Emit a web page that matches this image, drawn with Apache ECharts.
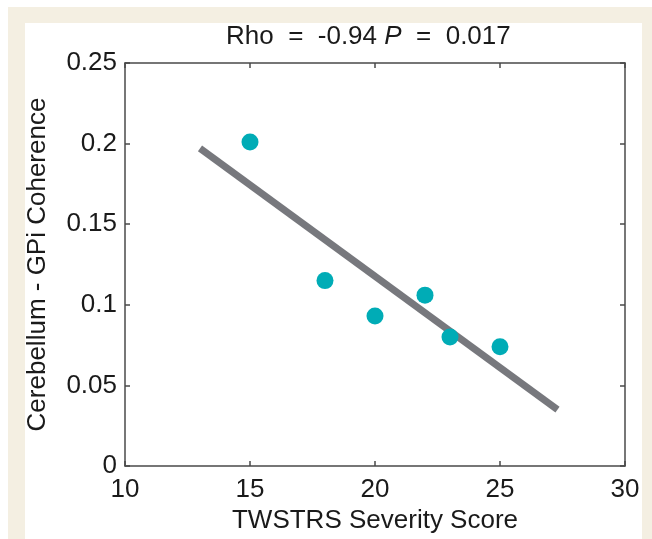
<!DOCTYPE html>
<html>
<head>
<meta charset="utf-8">
<title>Cerebellum - GPi Coherence</title>
<script src="https://cdn.jsdelivr.net/npm/echarts@6/dist/echarts.min.js"></script>
<style>
  body { margin: 0; background: #fff; }
  .frame { position: absolute; left: 8px; top: 7px; width: 644px; height: 532px; background: #f4efe2; }
  .panel { position: absolute; left: 25px; top: 23px; width: 617px; height: 516px; background: #fff; }
  #main { position: absolute; left: 0; top: 0; width: 652px; height: 539px; }
</style>
</head>
<body>
<div class="frame"></div>
<div class="panel"></div>
<div id="main"></div>
<script>
// TWSTRS score vs coherence, one dot per patient
var scores = [15, 18, 20, 22, 23, 25]
var coherence = [0.201, 0.115, 0.093, 0.106, 0.080, 0.074]
// ends of the regression line as drawn
var fitX = [13, 27.3]
var fitY = [0.197, 0.035]

var dots = []
scores.forEach(function(s, i) {
  dots.push([s, coherence[i]])
})
var fit = fitX.map(function(x, i) { return [x, fitY[i]] })

var font = 'Liberation Sans, Arial, sans-serif'
var axisColor = '#4a4a4a'

var myChart = echarts.init(document.getElementById('main'))
var xBase = {
  type: 'value', min: 10, max: 30, interval: 5,
  axisLine: { onZero: false, lineStyle: { color: axisColor, width: 1.5 } },
  axisTick: { inside: true, length: 5, lineStyle: { color: axisColor, width: 1.5 } },
  splitLine: { show: false }
}
var yBase = {
  type: 'value', min: 0, max: 0.25, interval: 0.05,
  axisLine: { onZero: false, lineStyle: { color: axisColor, width: 1.5 } },
  axisTick: { inside: true, length: 5, lineStyle: { color: axisColor, width: 1.5 } },
  splitLine: { show: false }
}

var option = {
  backgroundColor: 'transparent',
  animation: false,
  title: {
    text: 'Rho  =  -0.94 {i|P}  =  0.017',
    left: 221,
    top: 19,
    textStyle: {
      fontFamily: font, fontSize: 26, fontWeight: 'normal', color: '#1a1a1a',
      rich: { i: { fontFamily: font, fontSize: 26, fontStyle: 'italic', color: '#1a1a1a' } }
    }
  },
  grid: { left: 125, top: 63, width: 500, height: 408 },
  xAxis: [
    Object.assign({}, xBase, {
      position: 'bottom',
      name: 'TWSTRS Severity Score',
      nameLocation: 'middle',
      nameGap: 42,
      nameTextStyle: { fontFamily: font, fontSize: 26, color: '#1a1a1a' },
      axisLabel: { fontFamily: font, fontSize: 26, color: '#1a1a1a', margin: 11 }
    }),
    Object.assign({}, xBase, { position: 'top', axisLabel: { show: false } })
  ],
  yAxis: [
    Object.assign({}, yBase, {
      position: 'left',
      name: 'Cerebellum - GPi Coherence',
      nameLocation: 'middle',
      nameRotate: 90,
      nameGap: 74,
      nameTextStyle: { fontFamily: font, fontSize: 26, color: '#1a1a1a' },
      axisLabel: { fontFamily: font, fontSize: 26, color: '#1a1a1a', margin: 8 }
    }),
    Object.assign({}, yBase, { position: 'right', axisLabel: { show: false } })
  ],
  series: [
    {
      name: 'fit',
      type: 'line',
      data: fit,
      symbol: 'none',
      lineStyle: { color: '#77787d', width: 7, cap: 'butt' },
      z: 2
    },
    {
      name: 'patients',
      type: 'scatter',
      data: dots,
      symbolSize: 17,
      itemStyle: { color: '#00acb6', opacity: 1 },
      z: 3
    }
  ]
}

myChart.setOption(option)
</script>
</body>
</html>
